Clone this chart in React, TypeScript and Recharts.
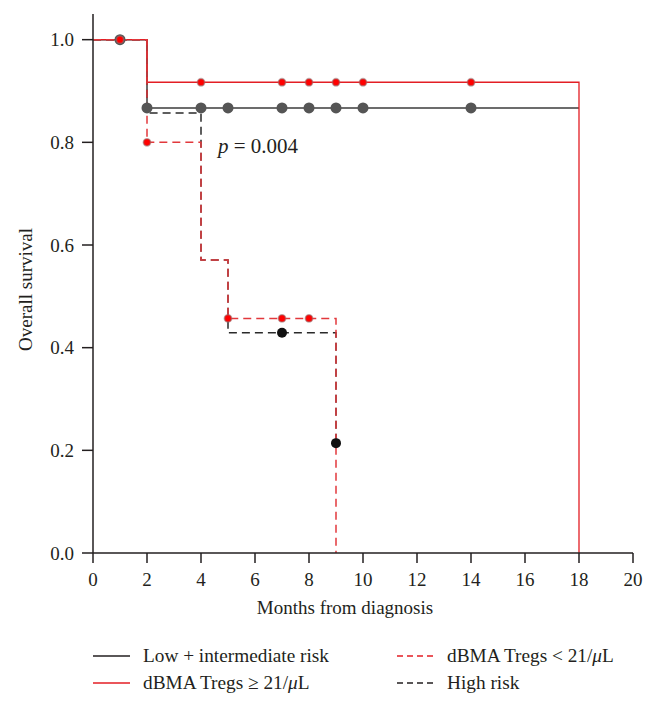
import React from "react";
import {
  ComposedChart,
  Line,
  Scatter,
  XAxis,
  YAxis,
  Label,
  ReferenceDot,
} from "recharts";

// step curves: times where survival changes, and survival after that time
const lowIntT = [0, 2, 18];
const lowIntS = [1.0, 0.867, 0.867];
const highT = [0, 2, 4, 5, 9];
const highS = [1.0, 0.857, 0.571, 0.429, 0.214];
const tregHiT = [0, 2, 18];
const tregHiS = [1.0, 0.917, 0.0];
const tregLoT = [0, 2, 4, 5, 9];
const tregLoS = [1.0, 0.8, 0.571, 0.457, 0.0];

// censored observations
const lowIntCensT = [1, 2, 4, 5, 7, 8, 9, 10, 14];
const lowIntCensS = [1.0, 0.867, 0.867, 0.867, 0.867, 0.867, 0.867, 0.867, 0.867];
const highCensT = [7, 9];
const highCensS = [0.429, 0.214];
const tregHiCensT = [1, 4, 7, 8, 9, 10, 14];
const tregHiCensS = [1.0, 0.917, 0.917, 0.917, 0.917, 0.917, 0.917];
const tregLoCensT = [2, 5, 7, 8];
const tregLoCensS = [0.8, 0.457, 0.457, 0.457];

const xTicks = [0, 2, 4, 6, 8, 10, 12, 14, 16, 18, 20];
const yTicks = [0, 0.2, 0.4, 0.6, 0.8, 1.0];

const pText = "p";
const pValue = " = 0.004";
const pAt = { t: 4.63, s: 0.794 };

const zip = (t: number[], s: number[]) => t.map((v, i) => ({ t: v, s: s[i] }));

const FONT = "'Liberation Serif', 'Times New Roman', serif";
const AXIS = "#231f20";
const RED = "#e31e24";
const RED_DASH = "#e2383c";
const DARK = "#3d3d3d";
const DARK_DASH = "#2a2a2a";

const tickStyle = { fontFamily: FONT, fontSize: 19, fill: "#231f20" };

function dot(r: number, fill: string, stroke = "none", sw = 0) {
  return (p: any) => <circle cx={p.cx} cy={p.cy} r={r} fill={fill} stroke={stroke} strokeWidth={sw} />;
}

function PLabel(props: any) {
  const vb = props.viewBox || {};
  const x = (vb.x ?? 0) + (vb.width ?? 0) / 2;
  const y = (vb.y ?? 0) + (vb.height ?? 0) / 2;
  return (
    <text x={x} y={y} dy="0.35em" fontFamily={FONT} fontSize={21} fill="#231f20" textAnchor="start">
      <tspan fontStyle="italic">{pText}</tspan>
      <tspan>{pValue}</tspan>
    </text>
  );
}

const legendItems = [
  { label: "Low + intermediate risk", color: "#231f20", dash: undefined },
  { label: "dBMA Tregs < 21/", mu: true, color: RED, dash: "6 4" },
  { label: "dBMA Tregs \u2265 21/", mu: true, color: RED, dash: undefined },
  { label: "High risk", color: "#231f20", dash: "6 4" },
];

function LegendBox() {
  return (
    <div
      style={{
        position: "absolute",
        left: 93,
        top: 642,
        display: "grid",
        gridTemplateColumns: "304px 260px",
        fontFamily: FONT,
        fontSize: 19.3,
        color: "#231f20",
        lineHeight: "27px",
      }}
    >
      {legendItems.map((it) => (
        <div key={it.label} style={{ display: "flex", alignItems: "center", whiteSpace: "nowrap" }}>
          <svg width={37} height={10} style={{ marginRight: 13 }}>
            <line x1={0} y1={5} x2={37} y2={5} stroke={it.color} strokeWidth={1.5} strokeDasharray={it.dash} />
          </svg>
          <span>
            {it.label}
            {it.mu ? (
              <>
                <i>{"\u03bc"}</i>L
              </>
            ) : null}
          </span>
        </div>
      ))}
    </div>
  );
}

export default function App() {
  return (
    <div style={{ position: "absolute", left: 0, top: 0, width: 656, height: 711, background: "#fff" }}>
      <ComposedChart width={656} height={640} margin={{ top: 14, right: 23, bottom: 0, left: 0 }}>
        <XAxis
          type="number"
          dataKey="t"
          domain={[0, 20]}
          ticks={xTicks}
          allowDataOverflow
          height={87}
          tickSize={10}
          tickMargin={10}
          tick={tickStyle}
          stroke={AXIS}
          strokeWidth={1.5}
        >
          <Label
            value="Months from diagnosis"
            position="insideBottom"
            offset={26}
            dx={-18}
            style={{ fontFamily: FONT, fontSize: 19, fill: "#231f20" }}
          />
        </XAxis>
        <YAxis
          type="number"
          dataKey="s"
          domain={[0, 1.05]}
          ticks={yTicks}
          allowDataOverflow
          width={93}
          tickSize={11}
          tickMargin={8}
          tick={tickStyle}
          tickFormatter={(v: number) => v.toFixed(1)}
          stroke={AXIS}
          strokeWidth={1.5}
        >
          <Label
            value="Overall survival"
            angle={-90}
            position="insideLeft"
            offset={25}
            dy={6}
            style={{ fontFamily: FONT, fontSize: 19, fill: "#231f20", textAnchor: "middle" }}
          />
        </YAxis>

        <Line data={zip(lowIntT, lowIntS)} dataKey="s" type="stepAfter" stroke={DARK} strokeWidth={1.5} dot={false} activeDot={false} isAnimationActive={false} />
        <Line data={zip(highT, highS)} dataKey="s" type="stepAfter" stroke={DARK_DASH} strokeWidth={1.5} strokeDasharray="8 5" dot={false} activeDot={false} isAnimationActive={false} />
        <Scatter data={zip(lowIntCensT, lowIntCensS)} dataKey="s" shape={dot(5.5, "#555555")} isAnimationActive={false} />
        <Scatter data={zip(highCensT, highCensS)} dataKey="s" shape={dot(5, "#111111")} isAnimationActive={false} />
        <Line data={zip(tregHiT, tregHiS)} dataKey="s" type="stepAfter" stroke={RED} strokeWidth={1.3} dot={false} activeDot={false} isAnimationActive={false} />
        <Line data={zip(tregLoT, tregLoS)} dataKey="s" type="stepAfter" stroke={RED_DASH} strokeWidth={1.5} strokeDasharray="8 5" dot={false} activeDot={false} isAnimationActive={false} />
        <Scatter data={zip(tregHiCensT, tregHiCensS)} dataKey="s" shape={dot(3.6, "#ff0000", "rgba(150,110,110,0.55)", 1.6)} isAnimationActive={false} />
        <Scatter data={zip(tregLoCensT, tregLoCensS)} dataKey="s" shape={dot(3.6, "#ff0000", "rgba(150,110,110,0.55)", 1.6)} isAnimationActive={false} />

        <ReferenceDot x={pAt.t} y={pAt.s} r={0} fill="none" stroke="none" label={<PLabel />} />
      </ComposedChart>
      <LegendBox />
    </div>
  );
}
